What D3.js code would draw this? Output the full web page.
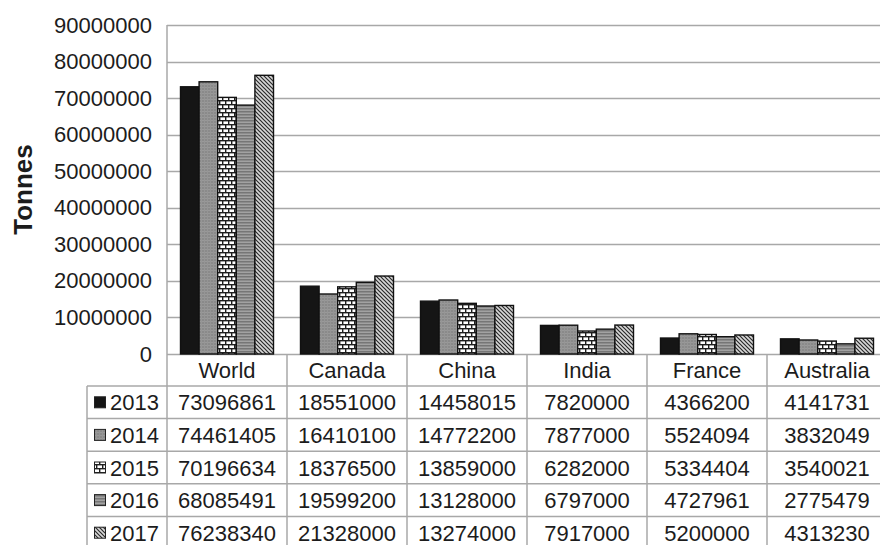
<!DOCTYPE html>
<html>
<head>
<meta charset="utf-8">
<script src="https://cdn.jsdelivr.net/npm/d3@7"></script>
<style>
  html, body { margin: 0; padding: 0; background: #fff; }
  svg { display: block; font-family: "Liberation Sans", Arial, sans-serif; }
</style>
</head>
<body>
<svg id="chart" width="880" height="545"></svg>
<script>
// Production by country and year (tonnes)
const countries = ["World", "Canada", "China", "India", "France", "Australia"];
const years = ["2013", "2014", "2015", "2016", "2017"];
const v2013 = [73096861, 18551000, 14458015, 7820000, 4366200, 4141731];
const v2014 = [74461405, 16410100, 14772200, 7877000, 5524094, 3832049];
const v2015 = [70196634, 18376500, 13859000, 6282000, 5334404, 3540021];
const v2016 = [68085491, 19599200, 13128000, 6797000, 4727961, 2775479];
const v2017 = [76238340, 21328000, 13274000, 7917000, 5200000, 4313230];
const yTicks = [0, 10000000, 20000000, 30000000, 40000000, 50000000, 60000000, 70000000, 80000000, 90000000];

const seriesValues = [v2013, v2014, v2015, v2016, v2017];

const svg = d3.select("#chart");
const gridColor = "#a8a8a8";
const textColor = "#1c1c1c";

// Plot geometry
const plotLeft = 167, plotTop = 25, plotBottom = 354;
const colW = 120;
const plotRight = plotLeft + colW * countries.length;
const legendLeft = 87;
const rowH = 32.6;

const x = d3.scaleBand().domain(countries).range([plotLeft, plotRight])
  .paddingInner(0.225).paddingOuter(0.1125);
const xs = d3.scaleBand().domain(years).range([0, x.bandwidth()]);
const y = d3.scaleLinear().domain([0, 90000000]).range([plotBottom, plotTop]);

// Fill patterns for each year
const defs = svg.append("defs");
function pat(id, w, h, build) {
  const p = defs.append("pattern").attr("id", id).attr("patternUnits", "userSpaceOnUse")
    .attr("width", w).attr("height", h);
  build(p);
}
pat("p2013", 4, 4, p => p.append("rect").attr("width", 4).attr("height", 4).attr("fill", "#151515"));
pat("p2014", 3, 3, p => {
  p.append("rect").attr("width", 3).attr("height", 3).attr("fill", "#8a8a8a");
  p.append("rect").attr("width", 3).attr("height", 1).attr("fill", "#999999");
  p.append("rect").attr("width", 1).attr("height", 3).attr("fill", "#959595");
});
pat("p2015", 12, 8, p => {
  p.append("rect").attr("width", 12).attr("height", 8).attr("fill", "#ffffff");
  p.append("rect").attr("y", 0).attr("width", 12).attr("height", 1.4).attr("fill", "#1e1e1e");
  p.append("rect").attr("y", 4).attr("width", 12).attr("height", 1.4).attr("fill", "#1e1e1e");
  p.append("rect").attr("x", 0).attr("y", 0).attr("width", 1.4).attr("height", 4).attr("fill", "#1e1e1e");
  p.append("rect").attr("x", 6).attr("y", 0).attr("width", 1.4).attr("height", 4).attr("fill", "#1e1e1e");
  p.append("rect").attr("x", 3).attr("y", 4).attr("width", 1.4).attr("height", 4).attr("fill", "#1e1e1e");
  p.append("rect").attr("x", 9).attr("y", 4).attr("width", 1.4).attr("height", 4).attr("fill", "#1e1e1e");
});
pat("p2016", 3, 3, p => {
  p.append("rect").attr("width", 3).attr("height", 3).attr("fill", "#a2a2a2");
  p.append("rect").attr("y", 0).attr("width", 3).attr("height", 1.5).attr("fill", "#767676");
});
pat("p2017", 4, 4, p => {
  p.append("rect").attr("width", 4).attr("height", 4).attr("fill", "#d8d8d8");
  p.append("path").attr("d", "M-1,-1 L5,5 M3,-1 L5,1 M-1,3 L1,5")
    .attr("stroke", "#2a2a2a").attr("stroke-width", 1.2);
});

// Gridlines
svg.append("g").selectAll("line").data(yTicks).join("line")
  .attr("x1", plotLeft).attr("x2", plotRight)
  .attr("y1", d => Math.round(y(d)) + 0.5).attr("y2", d => Math.round(y(d)) + 0.5)
  .attr("stroke", gridColor).attr("stroke-width", 1.5);

// Y axis tick labels
const yAxis = d3.axisLeft(y).tickValues(yTicks).tickFormat(d3.format("d")).tickSize(0).tickPadding(15);
const ga = svg.append("g").attr("transform", `translate(${plotLeft},0)`).call(yAxis);
ga.select(".domain").remove();
ga.selectAll("text").attr("font-size", 22).attr("fill", textColor)
  .attr("font-family", "Liberation Sans, Arial, sans-serif");

// Axis title
svg.append("text")
  .attr("transform", `translate(32,${(plotTop + plotBottom) / 2}) rotate(-90)`)
  .attr("text-anchor", "middle").attr("font-size", 26).attr("font-weight", "bold")
  .attr("fill", textColor).text("Tonnes");

// Bars
const barData = [];
years.forEach((yr, si) => countries.forEach((c, ci) => barData.push({ yr, c, v: seriesValues[si][ci] })));
svg.append("g").selectAll("rect").data(barData).join("rect")
  .attr("x", d => x(d.c) + xs(d.yr))
  .attr("y", d => y(d.v))
  .attr("width", xs.bandwidth())
  .attr("height", d => y(0) - y(d.v))
  .attr("fill", d => `url(#p${d.yr})`)
  .attr("stroke", "#111").attr("stroke-width", 1.4);

// Data table below the plot
const tbl = svg.append("g");
const headerTop = plotBottom;
const headerH = 32;
const rowsTop = headerTop + headerH;
const tableBottom = rowsTop + rowH * years.length;

// vertical lines
const vx = [plotLeft].concat(countries.map(c => x(c) - x.step() * x.paddingOuter() + colW));
tbl.selectAll("line.v").data(vx).join("line")
  .attr("x1", d => d).attr("x2", d => d)
  .attr("y1", (d, i) => i === 0 ? plotTop : headerTop).attr("y2", tableBottom)
  .attr("stroke", gridColor).attr("stroke-width", 1.5);
tbl.append("line").attr("x1", legendLeft).attr("x2", legendLeft)
  .attr("y1", rowsTop).attr("y2", tableBottom).attr("stroke", gridColor).attr("stroke-width", 1.5);
// horizontal lines
const hy = d3.range(years.length + 1).map(i => rowsTop + i * rowH);
tbl.selectAll("line.h").data(hy).join("line")
  .attr("x1", legendLeft).attr("x2", plotRight)
  .attr("y1", d => d).attr("y2", d => d)
  .attr("stroke", gridColor).attr("stroke-width", 1.5);

// header labels
tbl.selectAll("text.cat").data(countries).join("text")
  .attr("x", c => x(c) + x.bandwidth() / 2)
  .attr("y", headerTop + headerH / 2 + 8)
  .attr("text-anchor", "middle").attr("font-size", 22).attr("fill", textColor)
  .text(c => c);

// rows
years.forEach((yr, si) => {
  const ry = rowsTop + si * rowH;
  tbl.append("rect").attr("x", 94.5).attr("y", ry + rowH / 2 - 5.5)
    .attr("width", 11).attr("height", 11)
    .attr("fill", `url(#p${yr})`).attr("stroke", "#222").attr("stroke-width", 1);
  tbl.append("text").attr("x", 110).attr("y", ry + rowH / 2 + 8)
    .attr("font-size", 22).attr("fill", textColor).text(yr);
  tbl.selectAll(null).data(countries).join("text")
    .attr("x", c => x(c) + x.bandwidth() / 2)
    .attr("y", ry + rowH / 2 + 8)
    .attr("text-anchor", "middle").attr("font-size", 22).attr("fill", textColor)
    .text((c, ci) => seriesValues[si][ci]);
});
</script>
</body>
</html>
